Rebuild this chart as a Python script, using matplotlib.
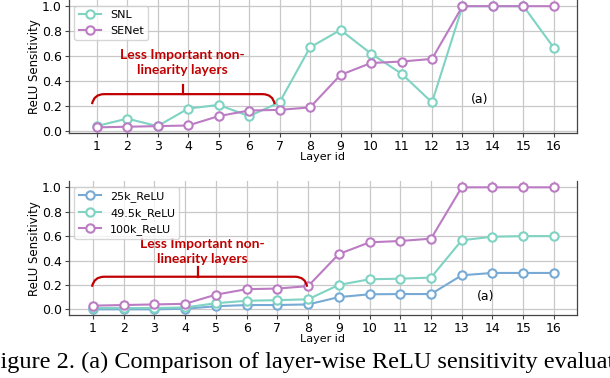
import matplotlib
matplotlib.use("Agg")
import matplotlib.pyplot as plt
from matplotlib.path import Path
from matplotlib.patches import PathPatch

layers = list(range(1, 17))
snl = [0.04, 0.10, 0.04, 0.18, 0.21, 0.12, 0.23, 0.67, 0.81, 0.62, 0.46, 0.23, 1.0, 1.0, 1.0, 0.665]
senet = [0.03, 0.035, 0.04, 0.045, 0.12, 0.165, 0.17, 0.19, 0.45, 0.545, 0.557, 0.578, 1.0, 1.0, 1.0, 1.0]
relu_25k = [0.0, 0.0, 0.0, 0.005, 0.025, 0.035, 0.035, 0.04, 0.10, 0.123, 0.125, 0.125, 0.279, 0.298, 0.298, 0.298]
relu_49k = [0.01, 0.01, 0.01, 0.015, 0.05, 0.07, 0.075, 0.082, 0.20, 0.246, 0.251, 0.26, 0.566, 0.595, 0.60, 0.60]
relu_100k = [0.03, 0.035, 0.04, 0.045, 0.12, 0.165, 0.17, 0.19, 0.453, 0.549, 0.56, 0.579, 1.0, 1.0, 1.0, 1.0]

C_TEAL = "#7fd3c3"
C_PURPLE = "#bb7cc3"
C_BLUE = "#77aad4"
C_RED = "#c00000"

fig = plt.figure(figsize=(6.1, 3.78), dpi=100)
ax1 = fig.add_axes([0.113, 0.647, 0.833, 0.3527])
ax2 = fig.add_axes([0.113, 0.1656, 0.833, 0.355])

def style(ax):
    ax.grid(True, color="#c8c8c8", linewidth=0.9)
    ax.set_axisbelow(True)
    ax.spines["top"].set_visible(False)
    for s in ("left", "bottom", "right"):
        ax.spines[s].set_color("#444444")
        ax.spines[s].set_linewidth(0.9)
    ax.set_xticks(layers)
    ax.set_yticks([0.0, 0.2, 0.4, 0.6, 0.8, 1.0])
    ax.tick_params(labelsize=9, length=3, color="#444444", pad=2)
    ax.set_ylabel("ReLU Sensitivity", fontsize=8.5, labelpad=1)
    ax.set_xlabel("Layer id", fontsize=8, labelpad=-1)

mk = dict(marker="o", markersize=6, markerfacecolor="white", markeredgewidth=1.5, linewidth=1.5)
ax1.plot(layers, snl, color=C_TEAL, label="SNL", **mk)
ax1.plot(layers, senet, color=C_PURPLE, label="SENet", **mk)
style(ax1)
ax1.legend(loc="upper left", fontsize=8, frameon=True, borderpad=0.4, labelspacing=0.5,
           handlelength=2.0)

ax2.plot(layers, relu_25k, color=C_BLUE, label="25k_ReLU", **mk)
ax2.plot(layers, relu_49k, color=C_TEAL, label="49.5k_ReLU", **mk)
ax2.plot(layers, relu_100k, color=C_PURPLE, label="100k_ReLU", **mk)
style(ax2)
ax2.legend(loc="upper left", fontsize=8, frameon=True, borderpad=0.4, labelspacing=0.5,
           handlelength=2.0)

def bracket(ax, x0, x1, ylow, ytop, ytick, xc):
    r = 0.4
    verts = [(x0, ylow), (x0 + r * 0.15, ytop), (x0 + r, ytop), (x1 - r, ytop),
             (x1 - r * 0.15, ytop), (x1, ylow)]
    codes = [Path.MOVETO, Path.CURVE3, Path.CURVE3, Path.LINETO, Path.CURVE3, Path.CURVE3]
    ax.add_patch(PathPatch(Path(verts, codes), fill=False, edgecolor=C_RED, linewidth=1.6, zorder=5))
    ax.plot([xc, xc], [ytop, ytick], color=C_RED, linewidth=1.6, zorder=5)

bracket(ax1, 0.85, 6.84, 0.216, 0.296, 0.368, 3.85)
ax1.text(3.82, 0.548, "Less Important non-\nlinearity layers", color=C_RED, fontsize=10,
         fontweight="bold", family="Lato", ha="center", va="center", linespacing=1.35)
ax1.text(13.55, 0.256, "(a)", fontsize=9, ha="center", va="center")

bracket(ax2, 0.97, 7.97, 0.185, 0.267, 0.347, 4.43)
ax2.text(4.55, 0.475, "Less Important non-\nlinearity layers", color=C_RED, fontsize=10,
         fontweight="bold", family="Lato", ha="center", va="center", linespacing=1.35)
ax2.text(13.78, 0.103, "(a)", fontsize=9, ha="center", va="center")

fig.text(-0.0215, 0.026, "Figure 2. (a) Comparison of layer-wise ReLU sensitivity evaluation",
         family="Liberation Serif", fontsize=17.5, ha="left", va="baseline")

fig.savefig("out.png", dpi=100)
